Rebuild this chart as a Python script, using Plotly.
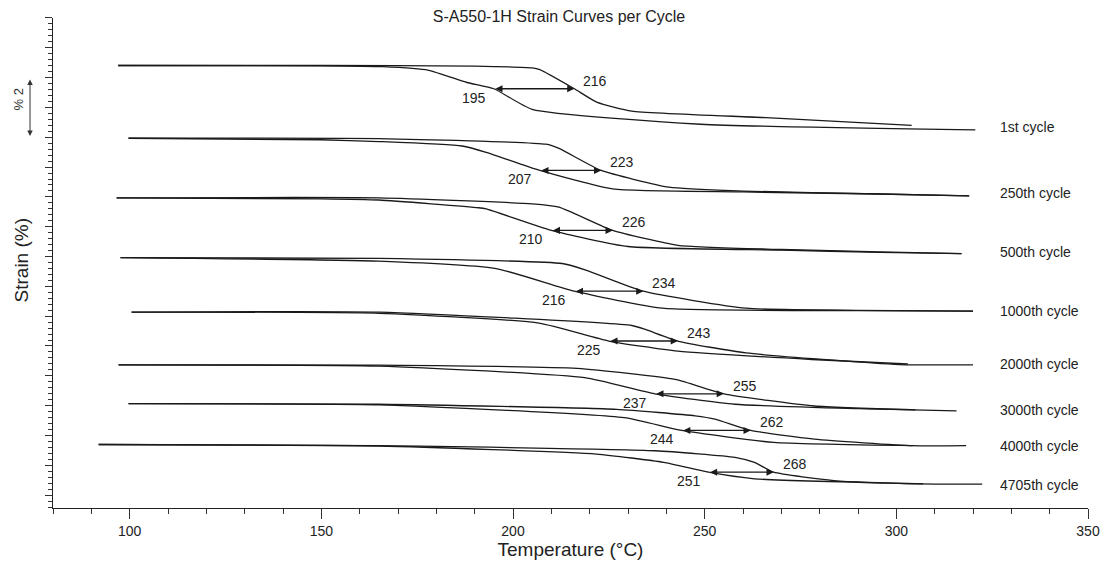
import plotly.graph_objects as go

# ---------------- data (temperature in °C, strain in %, stacked with offsets) -------------
cycles = ["1st cycle", "250th cycle", "500th cycle", "1000th cycle",
          "2000th cycle", "3000th cycle", "4000th cycle", "4705th cycle"]

# heating branch (transition at higher temperature)
heat_T = [
    [97, 150, 190, 205, 207, 216, 222, 231, 266, 304],
    [99.7, 165, 208.6, 212, 223, 240.7, 260, 295.6, 319],
    [96.6, 165, 205, 212, 226, 243, 270, 295.6, 317],
    [97.6, 165, 212.8, 219, 234, 260.8, 290, 320],
    [100.5, 165, 231, 234.7, 243, 260.8, 300.8, 320],
    [97.1, 165, 216.7, 242.3, 255, 278.6, 305],
    [99.7, 165, 227, 247.5, 252.7, 262, 278.6, 304.3, 318.2],
    [91.9, 165, 237, 257.9, 263, 268, 283.7, 306.4, 322.4],
]
heat_strain = [
    [14.84, 14.84, 14.82, 14.76, 14.70, 14.06, 13.60, 13.31, 13.09, 12.83],
    [12.40, 12.39, 12.20, 12.06, 11.32, 10.76, 10.63, 10.53, 10.47],
    [10.40, 10.40, 10.20, 10.09, 9.31, 8.81, 8.67, 8.59, 8.53],
    [8.40, 8.37, 8.20, 7.98, 7.27, 6.70, 6.63, 6.60],
    [6.57, 6.57, 6.12, 5.98, 5.60, 5.20, 4.81, 4.80],
    [4.80, 4.79, 4.68, 4.31, 3.83, 3.42, 3.29],
    [3.50, 3.48, 3.31, 3.09, 2.98, 2.60, 2.31, 2.09, 2.09],
    [2.13, 2.09, 1.92, 1.70, 1.53, 1.20, 0.92, 0.81, 0.80],
]

# cooling branch (transition at lower temperature)
cool_T = [
    [97, 150, 166, 178, 188, 195, 205, 249, 320.6],
    [99.7, 150, 165, 186.7, 193, 207, 226, 260, 295.6, 319],
    [96.6, 150, 165, 191, 193, 210, 230, 270, 295.6, 317],
    [97.6, 165, 195.6, 216, 239, 290, 320],
    [100.5, 165, 206.8, 225, 243, 278, 303],
    [97.1, 165, 218.7, 237, 257.9, 290, 315.7],
    [99.7, 165, 229, 244, 268, 304.3],
    [91.9, 165, 221.7, 239.3, 251, 263, 307],
]
cool_strain = [
    [14.84, 14.83, 14.80, 14.68, 14.27, 14.06, 13.37, 12.87, 12.68],
    [12.40, 12.35, 12.29, 12.14, 11.93, 11.32, 10.70, 10.60, 10.53, 10.47],
    [10.40, 10.37, 10.33, 10.07, 10.03, 9.31, 8.77, 8.65, 8.57, 8.53],
    [8.40, 8.28, 8.03, 7.27, 6.70, 6.62, 6.60],
    [6.57, 6.53, 6.20, 5.60, 5.26, 4.98, 4.83],
    [4.80, 4.76, 4.37, 3.83, 3.48, 3.33, 3.26],
    [3.50, 3.46, 3.03, 2.60, 2.20, 2.09],
    [2.13, 2.08, 1.81, 1.53, 1.20, 0.98, 0.81],
]

# hysteresis arrows: cooling temperature -> heating temperature, at given strain level
arrow_low = [195, 207, 210, 216, 225, 237, 244, 251]
arrow_high = [216, 223, 226, 234, 243, 255, 262, 268]
arrow_strain = [14.06, 11.32, 9.31, 7.27, 5.60, 3.83, 2.60, 1.20]

# right-hand cycle labels
label_T = 326.5
label_strain = [12.77, 10.57, 8.57, 6.60, 4.83, 3.30, 2.07, 0.77]

x_ticks = [100, 150, 200, 250, 300, 350]

# ---------------- figure ----------------
FONT = "Liberation Sans, Arial, sans-serif"
LINE = "#1a1a1a"
TXT = "#222"

fig = go.Figure()
for i, name in enumerate(cycles):
    fig.add_trace(go.Scatter(x=heat_T[i], y=heat_strain[i], mode="lines",
                             line=dict(color=LINE, width=1.3, shape="spline", smoothing=0.5),
                             name=name + " heating", showlegend=False, hoverinfo="skip"))
    fig.add_trace(go.Scatter(x=cool_T[i], y=cool_strain[i], mode="lines",
                             line=dict(color=LINE, width=1.3, shape="spline", smoothing=0.5),
                             name=name + " cooling", showlegend=False, hoverinfo="skip"))

annotations = []
for i, name in enumerate(cycles):
    # double-headed arrow
    annotations.append(dict(x=arrow_high[i], y=arrow_strain[i], ax=arrow_low[i], ay=arrow_strain[i],
                            xref="x", yref="y", axref="x", ayref="y", text="", showarrow=True,
                            arrowhead=2, startarrowhead=2, arrowside="end+start",
                            arrowsize=1.1, startarrowsize=1.1, arrowwidth=1.3, arrowcolor=LINE,
                            standoff=0, startstandoff=0))
    annotations.append(dict(x=arrow_low[i], y=arrow_strain[i], text=str(arrow_low[i]),
                            xref="x", yref="y", showarrow=False, xshift=-20, yshift=-9,
                            font=dict(family=FONT, size=14, color=TXT)))
    annotations.append(dict(x=arrow_high[i], y=arrow_strain[i], text=str(arrow_high[i]),
                            xref="x", yref="y", showarrow=False, xshift=21, yshift=8,
                            font=dict(family=FONT, size=14, color=TXT)))
    annotations.append(dict(x=label_T, y=label_strain[i], text=name, xref="x", yref="y",
                            showarrow=False, xanchor="left",
                            font=dict(family=FONT, size=14, color=TXT)))

# 2 % scale bar left of the axis
annotations.append(dict(x=-0.0222, y=14.37, xref="paper", yref="y", ax=0, ay=58,
                        text="", showarrow=True, arrowhead=2, startarrowhead=2,
                        arrowside="end+start", arrowsize=1.1, startarrowsize=1.1,
                        arrowwidth=1, arrowcolor="#333", standoff=0, startstandoff=0))
annotations.append(dict(x=-0.0338, y=13.7, xref="paper", yref="y", text="% 2", textangle=-90,
                        xanchor="center", yanchor="middle",
                        showarrow=False, font=dict(family=FONT, size=13, color="#333")))
# y-axis title
annotations.append(dict(x=-0.030, y=8.3, xref="paper", yref="y", text="Strain (%)",
                        textangle=-90, showarrow=False, xanchor="center", yanchor="middle",
                        font=dict(family=FONT, size=19, color=TXT)))

# page body has an 8 px margin: figure is sized/offset to put the plot where the reference has it
fig.update_layout(
    width=1102, height=556,
    margin=dict(l=45, r=20, t=10, b=53),
    paper_bgcolor="white", plot_bgcolor="white",
    title=dict(text="S-A550-1H Strain Curves per Cycle", x=0.5, xref="container",
               y=0.9955, yref="container", xanchor="center", yanchor="top",
               pad=dict(t=0, b=0),
               font=dict(family=FONT, size=16, color=TXT)),
    annotations=annotations,
    showlegend=False,
)
fig.update_xaxes(range=[80, 350], tickvals=x_ticks, ticks="outside", ticklen=10,
                 tickwidth=1, tickcolor="#333", showline=True, linecolor="#222", linewidth=1,
                 showgrid=False, zeroline=False,
                 minor=dict(dtick=10, tick0=80, ticks="outside", ticklen=5, tickcolor="#333"),
                 tickfont=dict(family=FONT, size=14, color=TXT),
                 title=dict(text="Temperature (°C)", standoff=2,
                            font=dict(family=FONT, size=19, color=TXT)))
fig.update_yaxes(range=[0, 16.433], tick0=0.4333, dtick=1, ticks="outside", ticklen=7,
                 tickcolor="#333", showticklabels=False, showline=True, linecolor="#222",
                 linewidth=1, showgrid=False, zeroline=False,
                 minor=dict(dtick=0.2, tick0=0.4333, ticks="outside", ticklen=4, tickcolor="#333"))

fig.write_html("out.html")
